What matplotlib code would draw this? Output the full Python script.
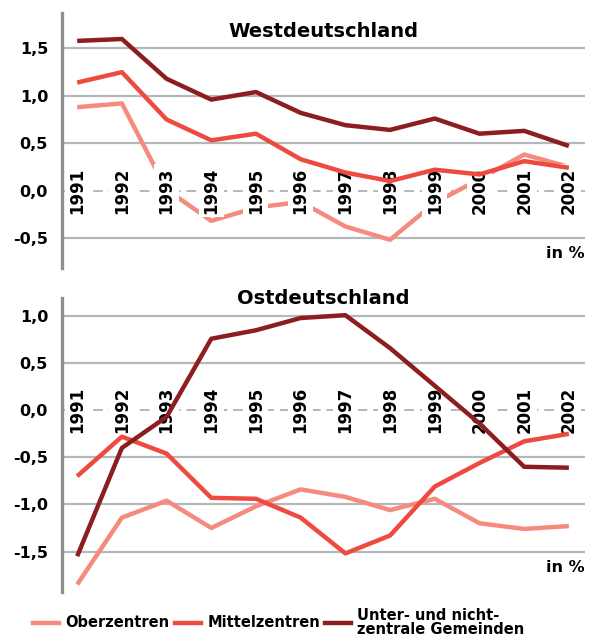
import matplotlib.pyplot as plt

years = list(range(1991, 2003))

# Westdeutschland
west_ober = [0.88, 0.92, 0.01, -0.32, -0.18, -0.12, -0.38, -0.52, -0.13, 0.12, 0.38, 0.25]
west_mittel = [1.14, 1.25, 0.75, 0.53, 0.60, 0.33, 0.19, 0.10, 0.22, 0.17, 0.31, 0.24]
west_unter = [1.58, 1.60, 1.18, 0.96, 1.04, 0.82, 0.69, 0.64, 0.76, 0.60, 0.63, 0.47]

# Ostdeutschland
ost_ober = [-1.85, -1.14, -0.96, -1.25, -1.02, -0.84, -0.92, -1.06, -0.94, -1.20, -1.26, -1.23]
ost_mittel = [-0.70, -0.28, -0.46, -0.93, -0.94, -1.14, -1.52, -1.33, -0.81, -0.56, -0.33, -0.25]
ost_unter = [-1.55, -0.40, -0.07, 0.76, 0.85, 0.98, 1.01, 0.66, 0.26, -0.14, -0.60, -0.61]

west_ticks = [1.5, 1.0, 0.5, 0.0, -0.5]
ost_ticks = [1.0, 0.5, 0.0, -0.5, -1.0, -1.5]

series_names = ['Oberzentren', 'Mittelzentren', 'Unter- und nicht-\nzentrale Gemeinden']
colors = ['#f58b7f', '#ee4a3f', '#8c1e1f']
zorders = [2, 3, 3.5]

plt.rcParams['font.family'] = ['DejaVu Sans']
plt.rcParams['font.weight'] = 'bold'

fig = plt.figure(figsize=(5.92, 6.4), dpi=100)
ax1 = fig.add_axes([0.1047, 0.581, 0.8834, 0.398])
ax2 = fig.add_axes([0.1047, 0.075, 0.8834, 0.459])


def draw(ax, data, ticks, ylim, title, title_y, unit_y):
    ax.set_xlim(1990.66, 2002.36)
    ax.set_ylim(*ylim)
    for t in ticks:
        if t == 0:
            ax.axhline(t, color='#b4b8b8', lw=1.4, ls=(0, (5, 3)), zorder=1)
        else:
            ax.axhline(t, color='#b4b8b8', lw=1.6, zorder=1)
    for vals, c, z in zip(data, colors, zorders):
        ax.plot(years, vals, color=c, lw=3.2, zorder=z, solid_capstyle='butt')
    for y in years:
        ax.text(y, 0, str(y), rotation=90, ha='center', va='center',
                fontsize=12, fontweight='bold', zorder=2.5,
                bbox=dict(facecolor='white', edgecolor='none', pad=2.5))
    ax.set_yticks(ticks)
    ax.set_yticklabels([('%.1f' % t).replace('.', ',') for t in ticks],
                       fontsize=11.5, fontweight='bold')
    ax.tick_params(axis='y', length=0, pad=10)
    ax.set_xticks([])
    for s in ['top', 'right', 'bottom']:
        ax.spines[s].set_visible(False)
    ax.spines['left'].set_color('#8c9090')
    ax.spines['left'].set_linewidth(2.4)
    ax.set_facecolor('none')
    ax.text(0.5, title_y, title, transform=ax.transAxes, ha='center', va='center',
            fontsize=14, fontweight='bold')
    ax.text(1.0, unit_y, 'in %', transform=ax.transAxes, ha='right', va='center',
            fontsize=11.5, fontweight='bold')


draw(ax1, [west_ober, west_mittel, west_unter], west_ticks, (-0.82, 1.87),
     'Westdeutschland', 0.93, 0.059)
draw(ax2, [ost_ober, ost_mittel, ost_unter], ost_ticks, (-1.93, 1.19),
     'Ostdeutschland', 1.0, 0.082)

# legend
leg_x = [0.056, 0.296, 0.549]
for x, name, c in zip(leg_x, series_names, colors):
    fig.add_artist(plt.Line2D([x, x + 0.044], [0.027, 0.027], color=c, lw=3.2))
    fig.text(x + 0.054, 0.027, name, ha='left', va='center', fontsize=10.5,
             fontweight='bold', linespacing=0.9)

fig.savefig('out.png', dpi=100)
